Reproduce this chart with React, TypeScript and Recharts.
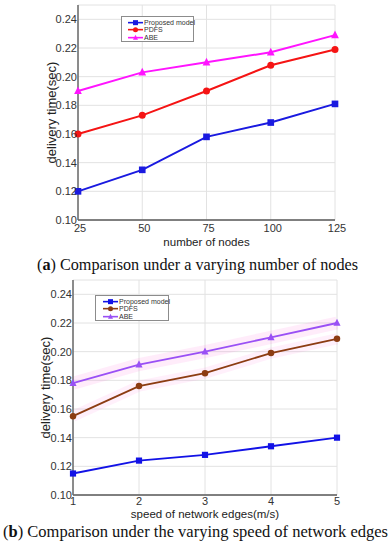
import React from 'react';
import { LineChart, Line, XAxis, YAxis, CartesianGrid, Legend } from 'recharts';

const nodeCategories = [25, 50, 75, 100, 125];
const nodesProposed = [0.12, 0.135, 0.158, 0.168, 0.181];
const nodesPDFS = [0.16, 0.173, 0.19, 0.208, 0.219];
const nodesABE = [0.19, 0.203, 0.21, 0.217, 0.229];

const speedCategories = [1, 2, 3, 4, 5];
const speedProposed = [0.115, 0.124, 0.128, 0.134, 0.14];
const speedPDFS = [0.155, 0.176, 0.185, 0.199, 0.209];
const speedABE = [0.178, 0.191, 0.2, 0.21, 0.22];

const yTicks = [0.1, 0.12, 0.14, 0.16, 0.18, 0.2, 0.22, 0.24];
const yDomain = [0.1, 0.25];
const seriesNames = ['Proposed model', 'PDFS', 'ABE'];
const seriesShapes = ['square', 'circle', 'triangle'];

const FONT = '"Liberation Sans", Arial, sans-serif';
const SERIF = '"Liberation Serif", "Times New Roman", serif';

function marker(shape: string, cx: number, cy: number, size: number, color: string, key?: string) {
  if (shape === 'square')
    return <rect key={key} x={cx - size / 2} y={cy - size / 2} width={size} height={size} fill={color} />;
  if (shape === 'circle') return <circle key={key} cx={cx} cy={cy} r={size / 2} fill={color} />;
  const h = size;
  return (
    <polygon
      key={key}
      points={`${cx},${cy - h * 0.6} ${cx - size / 2},${cy + h * 0.4} ${cx + size / 2},${cy + h * 0.4}`}
      fill={color}
    />
  );
}

const dotFn = (shape: string, size: number, color: string) => (props: any) => {
  const { cx, cy, index } = props;
  if (cx == null || cy == null) return <g key={`e${index}`} />;
  return marker(shape, cx, cy, size, color, `${shape}-${index}`);
};

type PanelProps = {
  categories: number[];
  proposed: number[];
  pdfs: number[];
  abe: number[];
  colors: string[];
  top: number;
  axisWidth: number;
  rightMargin: number;
  xLabel: string;
  xLabelOffset: number;
  yLabelOffset: number;
  tickMargin: number;
  tickDx: number;
  legend: { left: number; top: number; width: number; height: number; padLeft: number; padTop: number; row: number };
  glow?: boolean;
  lineWidth: number;
  dotSize: number;
};

function Panel(p: PanelProps) {
  const data = p.categories.map((c, i) => ({ x: c, proposed: p.proposed[i], pdfs: p.pdfs[i], abe: p.abe[i] }));
  const keys = ['proposed', 'pdfs', 'abe'];
  const renderLegend = (props: any) => {
    const payload = (props.payload || [])
      .filter((e: any) => seriesNames.includes(e.value))
      .sort((a: any, b: any) => seriesNames.indexOf(a.value) - seriesNames.indexOf(b.value));
    return (
      <div
        style={{
          width: p.legend.width,
          height: p.legend.height,
          boxSizing: 'border-box',
          border: '1px solid #8c8c8c',
          background: '#fff',
          padding: `${p.legend.padTop}px 0 0 ${p.legend.padLeft}px`,
          fontFamily: FONT,
          fontSize: 7,
          color: '#333',
        }}
      >
        {payload.map((e: any) => {
          const idx = seriesNames.indexOf(e.value);
          return (
            <div key={e.value} style={{ display: 'flex', alignItems: 'center', height: p.legend.row, overflow: 'visible' }}>
              <svg width={15} height={p.legend.row} style={{ marginRight: 1, overflow: 'visible', flex: 'none' }}>
                <line x1={0} y1={p.legend.row / 2} x2={15} y2={p.legend.row / 2} stroke={e.color} strokeWidth={1.6} />
                {marker(seriesShapes[idx], 7.5, p.legend.row / 2, 5, e.color)}
              </svg>
              <span style={{ whiteSpace: 'nowrap', lineHeight: `${p.legend.row}px` }}>{e.value}</span>
            </div>
          );
        })}
      </div>
    );
  };
  return (
    <div style={{ position: 'absolute', left: 0, top: p.top }}>
      <LineChart width={392} height={250} data={data} margin={{ top: 5, right: p.rightMargin, left: 0, bottom: 0 }}>
        <CartesianGrid stroke="#e2e2e2" strokeWidth={1} />
        <XAxis
          dataKey="x"
          height={30}
          stroke="#5a5a5a"
          strokeWidth={1.5}
          tickLine={false}
          tickSize={0}
          tickMargin={p.tickMargin}
          interval={0}
          tick={{ fill: '#333', fontSize: 11, fontFamily: FONT, dx: p.tickDx }}
          label={{
            value: p.xLabel,
            position: 'insideBottom',
            offset: p.xLabelOffset,
            style: { fill: '#222', fontSize: 11.5, fontFamily: FONT },
          }}
        />
        <XAxis xAxisId="top" dataKey="x" orientation="top" height={0} tick={false} tickLine={false} stroke="#5a5a5a" strokeWidth={1.5} />
        <YAxis
          domain={yDomain}
          ticks={yTicks}
          width={p.axisWidth}
          stroke="#6a6a6a"
          strokeWidth={1.5}
          tickLine={false}
          tickSize={0}
          tickMargin={1}
          interval={0}
          allowDataOverflow
          tickFormatter={(v: number) => v.toFixed(2)}
          tick={{ fill: '#333', fontSize: 11, fontFamily: FONT }}
          label={{
            value: 'delivery time(sec)',
            angle: -90,
            position: 'insideLeft',
            offset: p.yLabelOffset,
            style: { textAnchor: 'middle', fill: '#222', fontSize: 13, fontFamily: FONT },
          }}
        />
        <YAxis yAxisId="right" orientation="right" width={0} domain={yDomain} tick={false} tickLine={false} stroke="#5a5a5a" strokeWidth={1.5} />
        {p.glow && (
          <Line dataKey="abe" stroke="#ff70d8" strokeOpacity={0.13} strokeWidth={13} dot={false} legendType="none" isAnimationActive={false} name="glowA" />
        )}
        {p.glow && (
          <Line dataKey="pdfs" stroke="#ff70d8" strokeOpacity={0.1} strokeWidth={11} dot={false} legendType="none" isAnimationActive={false} name="glowB" />
        )}
        {keys.map((k, i) => (
          <Line
            key={k}
            dataKey={k}
            name={seriesNames[i]}
            stroke={p.colors[i]}
            strokeWidth={p.lineWidth}
            dot={dotFn(seriesShapes[i], i === 1 ? p.dotSize : p.dotSize * (i === 2 ? 1.1 : 0.95), p.colors[i])}
            activeDot={false}
            isAnimationActive={false}
          />
        ))}
        <Legend
          layout="vertical"
          align="center"
          verticalAlign="middle"
          content={renderLegend}
          wrapperStyle={{ position: 'absolute', left: p.legend.left, top: p.legend.top, width: p.legend.width, height: p.legend.height }}
        />
      </LineChart>
    </div>
  );
}

export default function App() {
  return (
    <div style={{ position: 'absolute', left: 0, top: 0, width: 392, height: 550, background: '#fff' }}>
      <Panel
        categories={nodeCategories}
        proposed={nodesProposed}
        pdfs={nodesPDFS}
        abe={nodesABE}
        colors={['#1a1ae0', '#f51414', '#ff14ff']}
        top={0}
        axisWidth={78}
        rightMargin={57}
        xLabel="number of nodes"
        xLabelOffset={4}
        yLabelOffset={51}
        tickMargin={4}
        tickDx={2}
        legend={{ left: 121, top: 16, width: 73, height: 26, padLeft: 6, padTop: 2, row: 7.3 }}
        lineWidth={2}
        dotSize={7}
      />
      <Panel
        categories={speedCategories}
        proposed={speedProposed}
        pdfs={speedPDFS}
        abe={speedABE}
        colors={['#1212e6', '#8c3c12', '#9a50f5']}
        top={275}
        axisWidth={73}
        rightMargin={55}
        xLabel="speed of network edges(m/s)"
        xLabelOffset={7}
        yLabelOffset={45}
        tickMargin={2}
        tickDx={0}
        legend={{ left: 95, top: 20, width: 74, height: 26, padLeft: 7, padTop: 2, row: 7.3 }}
        glow
        lineWidth={1.8}
        dotSize={6.5}
      />
      <svg width={392} height={550} style={{ position: 'absolute', left: 0, top: 0, pointerEvents: 'none' }}>
        <text x={37} y={270} fontFamily={SERIF} fontSize={16.5} fill="#111" textLength={321} lengthAdjust="spacingAndGlyphs">
          (<tspan fontWeight="bold">a</tspan>) Comparison under a varying number of nodes
        </text>
        <text x={3} y={537} fontFamily={SERIF} fontSize={16} fill="#111" textLength={385} lengthAdjust="spacingAndGlyphs">
          (<tspan fontWeight="bold">b</tspan>) Comparison under the varying speed of network edges
        </text>
      </svg>
    </div>
  );
}
